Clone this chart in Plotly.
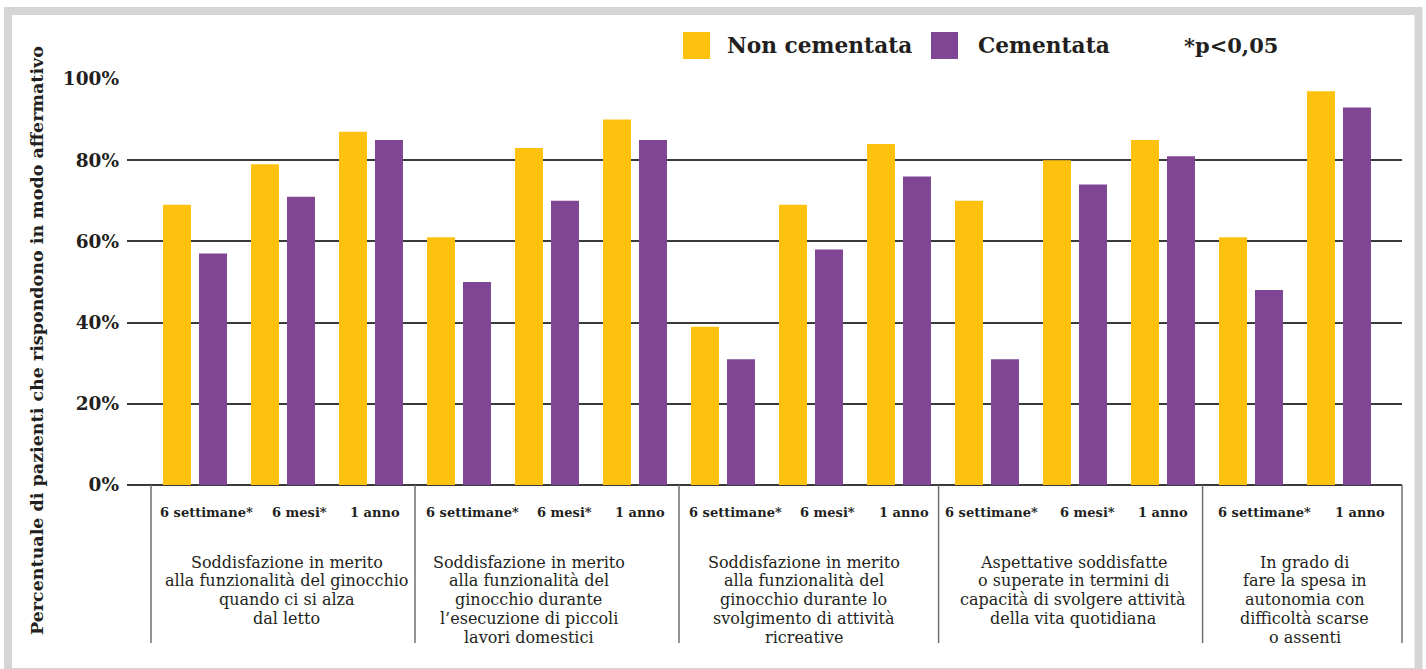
import plotly.graph_objects as go

# ---- data -------------------------------------------------------------
categories = [
    "Soddisfazione in merito<br>alla funzionalità del ginocchio<br>quando ci si alza<br>dal letto",
    "Soddisfazione in merito<br>alla funzionalità del<br>ginocchio durante<br>l’esecuzione di piccoli<br>lavori domestici",
    "Soddisfazione in merito<br>alla funzionalità del<br>ginocchio durante lo<br>svolgimento di attività<br>ricreative",
    "Aspettative soddisfatte<br>o superate in termini di<br>capacità di svolgere attività<br>della vita quotidiana",
    "In grado di<br>fare la spesa in<br>autonomia con<br>difficoltà scarse<br>o assenti",
]
time_labels = [
    ["6 settimane*", "6 mesi*", "1 anno"],
    ["6 settimane*", "6 mesi*", "1 anno"],
    ["6 settimane*", "6 mesi*", "1 anno"],
    ["6 settimane*", "6 mesi*", "1 anno"],
    ["6 settimane*", "1 anno"],
]
non_cementata = [69, 79, 87, 61, 83, 90, 39, 69, 84, 70, 80, 85, 61, 97]
cementata = [57, 71, 85, 50, 70, 85, 31, 58, 76, 31, 74, 81, 48, 93]
y_ticks = [0, 20, 40, 60, 80, 100]
y_tick_text = ["0%", "20%", "40%", "60%", "80%", "100%"]
series_names = ["Non cementata", "Cementata"]
note = "*p<0,05"
y_title = "Percentuale di pazienti che rispondono in modo affermativo"

# ---- style ------------------------------------------------------------
YELLOW = "#FEC20E"
PURPLE = "#7F4694"
INK = "#231F20"
GRID = "#3A3A3A"
DIVIDER = "#707070"
FRAME = "#D4D5D4"
SERIF = "DejaVu Serif"

W, H = 1426, 669
ML, MR, MT, MB = 127, 24, 79, 184
PW, PH = W - ML - MR, H - MT - MB
X_RANGE = [-0.7727, 13.716]


def px_x(px):
    return (px - ML) / PW


def px_y(py):
    return (H - MB - py) / PH


def slot_to_paper(s):
    return (s - X_RANGE[0]) / (X_RANGE[1] - X_RANGE[0])


slots = list(range(len(non_cementata)))

fig = go.Figure()
fig.add_bar(x=slots, y=non_cementata, name=series_names[0],
            marker=dict(color=YELLOW, line=dict(width=0)))
fig.add_bar(x=slots, y=cementata, name=series_names[1],
            marker=dict(color=PURPLE, line=dict(width=0)))

shapes = []
annotations = []

# group boundaries below the axis
group_edges = [-0.5, 2.5, 5.5, 8.45, 11.45]
for e in group_edges:
    xp = slot_to_paper(e)
    shapes.append(dict(type="line", xref="paper", yref="paper",
                       x0=xp, x1=xp, y0=0, y1=px_y(643),
                       line=dict(color=DIVIDER, width=1.5)))
shapes.append(dict(type="line", xref="paper", yref="paper",
                   x0=1, x1=1, y0=0, y1=px_y(643),
                   line=dict(color=DIVIDER, width=1.5)))

# time point labels and group descriptions
label_shift = [[0.125, 0.19, 0.05], [0.15, 0.2, 0.06], [0.14, 0.19, 0.06],
               [0.05, 0.14, 0.0], [0.15, 0.24]]
desc_center = [1.042, 3.79, 6.92, 9.98, 12.61]
DESC_TOP, DESC_STEP = 562, 18.8
s = 0
for g, labels in enumerate(time_labels):
    for k, lab in enumerate(labels):
        annotations.append(dict(
            x=s + label_shift[g][k], xref="x", y=px_y(512), yref="paper",
            text=lab, showarrow=False, xanchor="center", yanchor="middle",
            font=dict(family=SERIF, size=13, color=INK, weight="bold")))
        s += 1
    for i, line in enumerate(categories[g].split("<br>")):
        annotations.append(dict(
            x=desc_center[g], xref="x", y=px_y(DESC_TOP + i * DESC_STEP),
            yref="paper", text=line, showarrow=False,
            xanchor="center", yanchor="middle",
            font=dict(family=SERIF, size=16, color=INK)))

# vertical axis title
annotations.append(dict(
    x=px_x(37), xref="paper", y=px_y(341), yref="paper",
    text=y_title, textangle=-90, showarrow=False,
    xanchor="center", yanchor="middle",
    font=dict(family=SERIF, size=17.5, color=INK, weight="bold")))

# legend
for (x0, x1), col in zip([(683, 710), (931, 958)], [YELLOW, PURPLE]):
    shapes.append(dict(type="rect", xref="paper", yref="paper",
                       x0=px_x(x0), x1=px_x(x1), y0=px_y(32), y1=px_y(59),
                       fillcolor=col, line=dict(width=0)))
for xl, txt, sz in zip([725, 976, 1182], series_names + [note], [21.7, 21.7, 21]):
    annotations.append(dict(
        x=px_x(xl), xref="paper", y=px_y(45), yref="paper",
        text=txt, showarrow=False, xanchor="left", yanchor="middle",
        font=dict(family=SERIF, size=sz, color=INK, weight="bold")))

# outer frame
shapes.append(dict(type="rect", xref="paper", yref="paper",
                   x0=px_x(8), x1=px_x(1418.5), y0=px_y(11), y1=px_y(672),
                   line=dict(color=FRAME, width=8), fillcolor="rgba(0,0,0,0)",
                   layer="below"))

fig.update_layout(
    width=W, height=H,
    margin=dict(l=ML, r=MR, t=MT, b=MB, pad=0),
    paper_bgcolor="white", plot_bgcolor="white",
    barmode="group", bargap=0.182, bargroupgap=0.222,
    showlegend=False,
    shapes=shapes, annotations=annotations,
    xaxis=dict(range=X_RANGE, showticklabels=False, showgrid=False,
               zeroline=False, showline=False, ticks=""),
    yaxis=dict(range=[0, 100], tickmode="array", tickvals=y_ticks,
               ticktext=y_tick_text,
               tickfont=dict(family=SERIF, size=18.5, color=INK, weight="bold"),
               showgrid=True, gridcolor=GRID, gridwidth=1.5,
               zeroline=True, zerolinecolor=GRID, zerolinewidth=1.5,
               showline=False, ticks="", ticklabelstandoff=7),
)

fig.write_html("out.html")
